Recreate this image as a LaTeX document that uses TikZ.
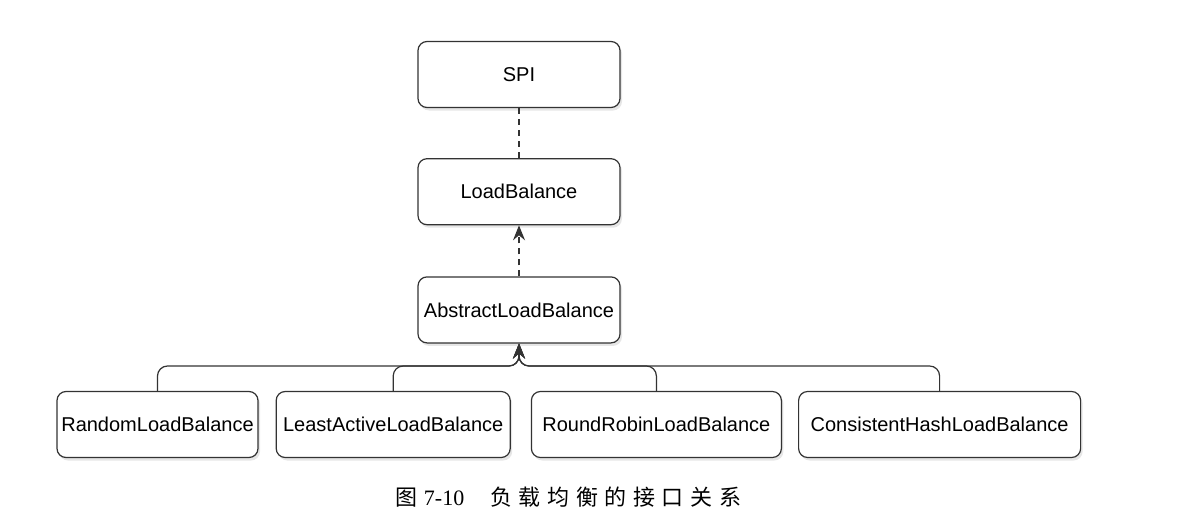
\documentclass[tikz,border=0pt]{standalone}
\usepackage{fontspec}
\setmainfont{Liberation Serif}
\setsansfont{Liberation Sans}
\newfontfamily\cjk[LetterSpace=30]{Noto Sans CJK SC}
\usetikzlibrary{positioning,arrows.meta,shadows}
\tikzset{
  cls/.style={draw=black!80, line width=1.2pt, rounded corners=9pt, fill=white,
    minimum height=66pt, inner sep=0pt,
    font=\sffamily\fontsize{20}{24}\selectfont,
    drop shadow={opacity=0.2, shadow xshift=2pt, shadow yshift=-3pt}},
  tip/.style={-{Stealth[length=15pt,width=12pt,inset=5pt]}},
  dep/.style={draw=black!80, line width=1.2pt, dash pattern=on 6pt off 5pt},
  inh/.style={draw=black!80, line width=1.2pt, rounded corners=10pt, tip},
}

\begin{document}
\begin{tikzpicture}[x=1pt,y=-1pt]
  \useasboundingbox (0,0) rectangle (1177,519);
  % interface column
  \node[cls, minimum width=202pt] (spi) at (519,74.5) {SPI};
  \node[cls, minimum width=202pt, below=50pt of spi] (lb) {LoadBalance};
  \node[cls, minimum width=202pt, below=51pt of lb] (abs) {AbstractLoadBalance};
  % implementations
  \node[cls, minimum width=201pt] (random) at (157.5,424.5) {RandomLoadBalance};
  \node[cls, minimum width=234pt, right=17pt of random] (least) {LeastActiveLoadBalance};
  \node[cls, minimum width=250pt, right=20pt of least] (robin) {RoundRobinLoadBalance};
  \node[cls, minimum width=282pt, right=16pt of robin] (hash) {ConsistentHashLoadBalance};
  \coordinate (bus) at (abs.south |- 0,366);
  % connectors
  \path[dep] (spi) -- (lb);
  \path[dep, tip] (abs) -- (lb);
  \foreach \impl in {random,least,robin,hash}
    \path[inh] (\impl.north) |- (bus) -- (abs.south);
  % caption
  \node[font=\fontsize{22}{26}\selectfont] (caption) at (568.5,497)
    {{\cjk 图}\hspace{6pt}7-10\hspace{26pt}{\cjk 负载均衡的接口关系}};
\end{tikzpicture}
\end{document}
